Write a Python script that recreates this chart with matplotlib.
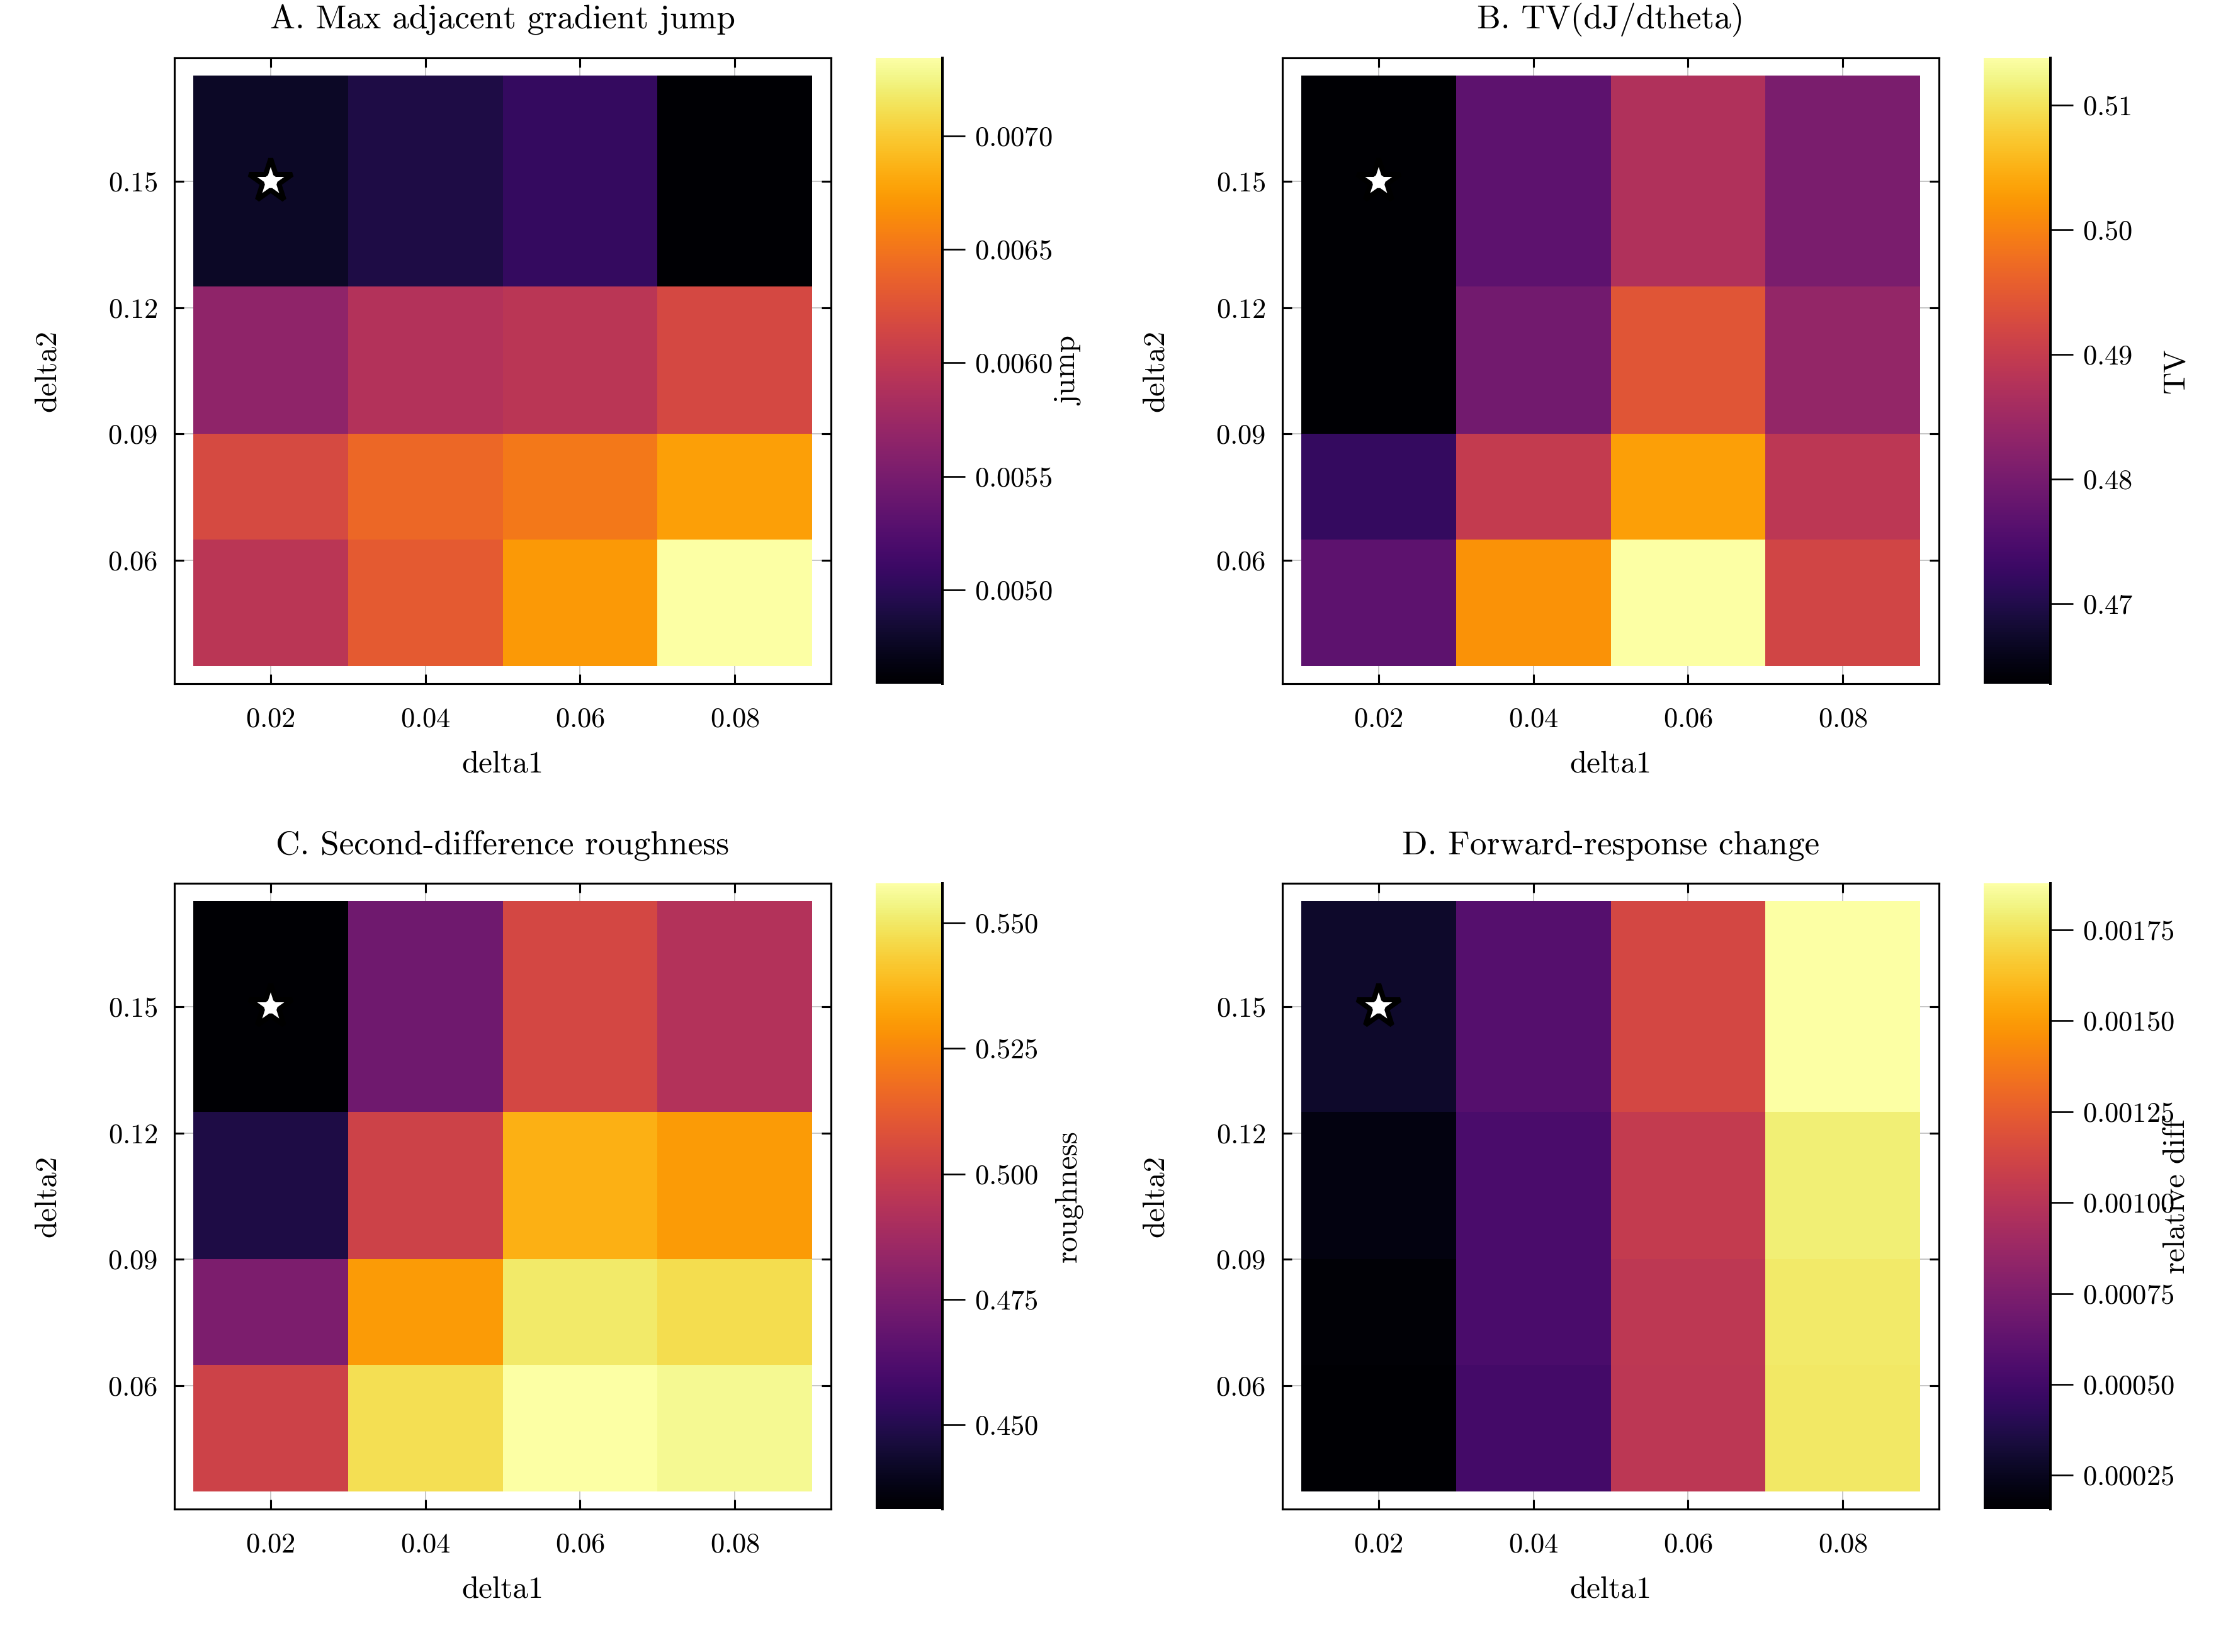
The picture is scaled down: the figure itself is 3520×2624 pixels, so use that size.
import numpy as np
import matplotlib
matplotlib.use("Agg")
import matplotlib.pyplot as plt

# ------------------------------------------------------------
# grid of smoothing parameters
# ------------------------------------------------------------
delta1 = [0.02, 0.04, 0.06, 0.08]
delta2 = [0.05, 0.08, 0.10, 0.15]   # rows, bottom -> top
best = (0.02, 0.15)

# rows follow delta2, columns follow delta1
jump = [
    [0.00596, 0.00632, 0.00672, 0.007343],
    [0.00617, 0.00641, 0.00652, 0.00676],
    [0.00566, 0.00591, 0.00596, 0.00616],
    [0.00478, 0.00492, 0.00506, 0.004587],
]
tv = [
    [0.4771, 0.5017, 0.5138, 0.4917],
    [0.4721, 0.4897, 0.5032, 0.4887],
    [0.4637, 0.4796, 0.4942, 0.4837],
    [0.4636, 0.4771, 0.4872, 0.4806],
]
rough = [
    [0.5018, 0.5473, 0.5579, 0.5554],
    [0.4756, 0.5305, 0.5504, 0.5467],
    [0.4482, 0.5018, 0.5355, 0.5305],
    [0.4332, 0.4719, 0.5043, 0.4931],
]
reldiff = [
    [0.000157, 0.000510, 0.001018, 0.001766],
    [0.000174, 0.000536, 0.001026, 0.001775],
    [0.000209, 0.000536, 0.001052, 0.001792],
    [0.000286, 0.000587, 0.001138, 0.001878],
]

titles = ["A. Max adjacent gradient jump", "B. TV(dJ/dtheta)",
          "C. Second-difference roughness", "D. Forward-response change"]
cb_labels = ["jump", "TV", "roughness", "relative diff"]
cb_ticks = [
    [0.0050, 0.0055, 0.0060, 0.0065, 0.0070],
    [0.47, 0.48, 0.49, 0.50, 0.51],
    [0.450, 0.475, 0.500, 0.525, 0.550],
    [0.00025, 0.00050, 0.00075, 0.00100, 0.00125, 0.00150, 0.00175],
]
panels = [jump, tv, rough, reldiff]

plt.rcParams.update({
    "font.family": ["cmr10", "DejaVu Serif"],
    "axes.formatter.use_mathtext": True,
    "font.size": 11,
    "axes.linewidth": 0.7,
    "axes.axisbelow": True,
    "xtick.direction": "in",
    "ytick.direction": "in",
    "xtick.top": True,
    "ytick.right": True,
    "xtick.major.size": 3.4,
    "ytick.major.size": 3.4,
    "xtick.major.width": 0.7,
    "ytick.major.width": 0.7,
    "xtick.labelsize": 10,
    "ytick.labelsize": 10,
    "xtick.major.pad": 8.5,
    "ytick.major.pad": 6,
})

fig = plt.figure(figsize=(11, 8.2), dpi=320)

W, H = 3520, 2624
ax_left = [277, 2037]
ax_top = [92, 1403]
ax_w, ax_h = 1043, 994
cb_off, cb_w = 1114, 106

for k, (vals, title, cbl) in enumerate(zip(panels, titles, cb_labels)):
    r, c = divmod(k, 2)
    l = ax_left[c]
    t = ax_top[r]
    ax = fig.add_axes([l / W, 1 - (t + ax_h) / H, ax_w / W, ax_h / H])
    cax = fig.add_axes([(l + cb_off) / W, 1 - (t + ax_h) / H, cb_w / W, ax_h / H])

    ax.grid(True, color="#b8b8b8", linewidth=0.35)
    m = ax.pcolormesh(delta1, delta2, np.array(vals), shading="nearest", cmap="inferno")
    ax.plot(best[0], best[1], marker="*", markersize=16, markerfacecolor="white",
            markeredgecolor="black", markeredgewidth=1.8, linestyle="none")

    ax.set_xlim(0.0076, 0.0924)
    ax.set_ylim(0.0308, 0.1792)
    ax.set_xticks([0.02, 0.04, 0.06, 0.08])
    ax.set_yticks([0.06, 0.09, 0.12, 0.15])
    ax.set_xlabel("delta1", fontsize=11, labelpad=6.5)
    ax.set_ylabel("delta2", fontsize=11, labelpad=16.5)
    ax.set_title(title, fontsize=12, pad=10.5)

    cb = fig.colorbar(m, cax=cax)
    cb.set_ticks(cb_ticks[k])
    cb.outline.set_visible(False)
    cax.spines["right"].set_visible(True)
    cax.spines["right"].set_linewidth(0.9)
    cax.tick_params(which="major", direction="out", length=8, width=0.6,
                    pad=3.4, labelsize=10, left=False, right=True)
    cax.tick_params(which="minor", length=0)
    cb.set_label(cbl, fontsize=11)
    # fixed label position, as in the original (overlaps long tick labels in D)
    cax.yaxis.set_label_coords(2.68, 0.5)

fig.savefig("out.png", dpi=320)
